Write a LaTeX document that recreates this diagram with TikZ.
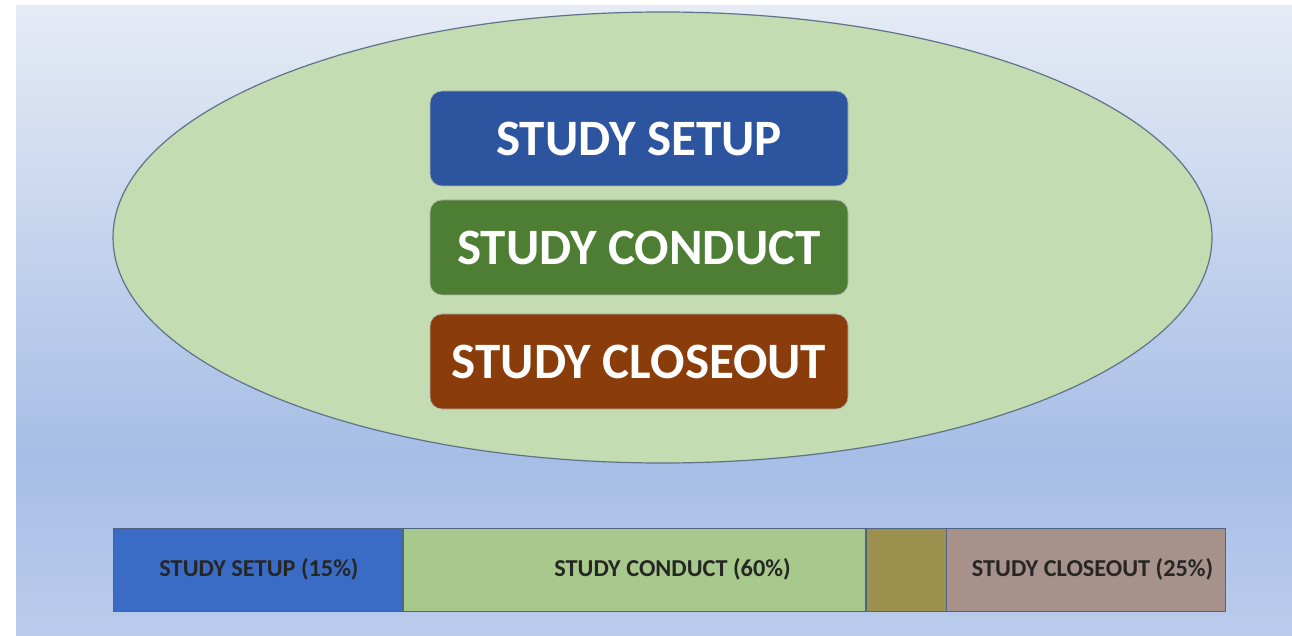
\documentclass[tikz,border=0pt]{standalone}
\usepackage{fontspec}
\setmainfont{Carlito}
\usetikzlibrary{shapes.geometric}
\definecolor{bgtop}{HTML}{E6EBF5}
\definecolor{bgmid}{HTML}{BACCEC}
\definecolor{bgbot}{HTML}{A6BEE6}
\definecolor{ellfill}{HTML}{C3DCB1}
\definecolor{elldraw}{HTML}{5F7388}
\definecolor{bluebox}{HTML}{2D559F}
\definecolor{greenbox}{HTML}{4E7E34}
\definecolor{brownbox}{HTML}{8A3D0B}
\definecolor{segblue}{HTML}{3A6CC6}
\definecolor{seggreen}{HTML}{A8C98C}
\definecolor{segolive}{HTML}{9C914F}
\definecolor{segbrown}{HTML}{A6928B}
\definecolor{segdraw}{HTML}{4F6482}
\tikzset{
  phasebox/.style={rounded corners=12pt, minimum width=418pt, minimum height=95pt, inner sep=0pt,
    text=white, font=\fontsize{51}{56}\selectfont\bfseries, draw=white!70!black, line width=0.6pt},
  seg/.style={draw=segdraw, line width=0.8pt, inner sep=0pt, minimum height=83pt, anchor=west},
  segtext/.style={font=\fontsize{24.3}{28}\selectfont\bfseries, text=black!85}
}
\begin{document}
\begin{tikzpicture}[x=1pt,y=1pt]
\useasboundingbox (0,0) rectangle (1292,635);
\fill[white] (0,0) rectangle (1292,635);
\shade[top color=bgtop, bottom color=bgbot] (16,180) rectangle (1292,629);
\shade[top color=bgbot, bottom color=bgmid] (16,0) rectangle (1292,180.5);
\node[ellipse, fill=ellfill, draw=elldraw, line width=1.2pt, minimum width=1099pt, minimum height=451pt, inner sep=0pt] (ell) at (662.5,397.5) {};
\node[phasebox, fill=bluebox] (setup) at (639,496.5) {STUDY SETUP};
\node[phasebox, fill=greenbox] (conduct) at (639,387.5) {STUDY CONDUCT};
\node[phasebox, fill=brownbox] (closeout) at (639,273.5) {STUDY CLOSEOUT};
\node[seg, fill=segblue, minimum width=289pt] (s1) at (113,65.5) {};
\node[seg, fill=seggreen, minimum width=462pt] (s2) at (s1.east) {};
\node[seg, fill=segolive, minimum width=80pt] (s3) at (s2.east) {};
\node[seg, fill=segbrown, minimum width=279pt] (s4) at (s3.east) {};
\node[segtext] (t1) at (259,65.5) {STUDY SETUP (15\%)};
\node[segtext] (t2) at (672.5,65.5) {STUDY CONDUCT (60\%)};
\node[segtext] (t3) at (1092.5,65.5) {STUDY CLOSEOUT (25\%)};
\end{tikzpicture}
\end{document}
